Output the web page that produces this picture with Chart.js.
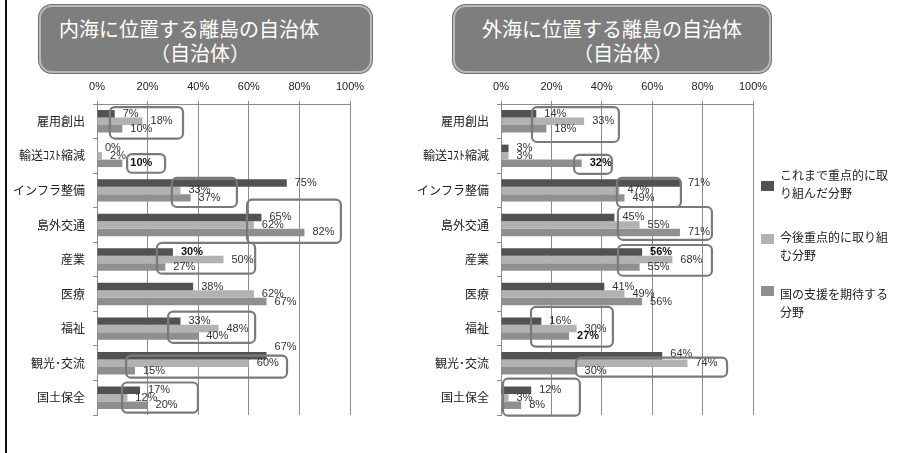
<!DOCTYPE html>
<html lang="ja">
<head>
<meta charset="utf-8">
<title>離島の自治体 重点分野</title>
<script src="https://cdn.jsdelivr.net/npm/chart.js@4.4.1/dist/chart.umd.min.js"></script>
<style>
  html, body { margin: 0; padding: 0; background: #fff; }
  #page { position: relative; width: 900px; height: 453px; overflow: hidden; background: #fff; }
  #frame { position: absolute; left: 5px; top: 0; width: 2px; height: 453px; background: #111; }
  .titlebox {
    position: absolute; top: 5px; height: 64px;
    background: #7e7e7e; border: 2px solid #b9b9b9; border-radius: 13px;
    box-shadow: 0 0 0 1px #6f6f6f;
  }
  .tline {
    position: absolute; color: #fff; font-family: "Noto Sans CJK JP", sans-serif;
    font-size: 20px; line-height: 24px; white-space: nowrap; transform: translateX(-50%);
  }
  canvas { position: absolute; }
  .lg-sw { position: absolute; left: 761px; width: 13px; height: 10px; }
  .lg-tx {
    position: absolute; left: 780px; font-family: "Noto Sans CJK JP", sans-serif;
    font-size: 12px; line-height: 18px; color: #222; white-space: nowrap;
  }
</style>
</head>
<body>
<div id="page">
  <div id="frame"></div>

  <div class="titlebox" style="left:39px; width:329px;"></div>
  <div class="tline" style="left:189px; top:17px;">内海に位置する離島の自治体</div>
  <div class="tline" style="left:200px; top:41px;">（自治体）</div>

  <div class="titlebox" style="left:453px; width:314px;"></div>
  <div class="tline" style="left:612px; top:17px;">外海に位置する離島の自治体</div>
  <div class="tline" style="left:623px; top:41px;">（自治体）</div>

  <canvas id="inner" width="450" height="345" style="left:0; top:75px;"></canvas>
  <canvas id="outer" width="380" height="345" style="left:410px; top:75px;"></canvas>

  <div id="legend"></div>
</div>

<script>
// Categories (drawn top to bottom)
const categories = ['雇用創出', '輸送ｺｽﾄ縮減', 'インフラ整備', '島外交通', '産業', '医療', '福祉', '観光･交流', '国土保全'];

// Series names
const seriesNames = ['これまで重点的に取り組んだ分野', '今後重点的に取り組む分野', '国の支援を期待する分野'];
const legendLines = [['これまで重点的に取', 'り組んだ分野'], ['今後重点的に取り組', 'む分野'], ['国の支援を期待する', '分野']];

// 内海に位置する離島の自治体 (%)
const innerPast    = [7, 0, 75, 65, 30, 38, 33, 67, 17];
const innerFuture  = [18, 2, 33, 62, 50, 62, 48, 60, 12];
const innerSupport = [10, 10, 37, 82, 27, 67, 40, 15, 20];

// 外海に位置する離島の自治体 (%)
const outerPast    = [14, 3, 71, 45, 56, 41, 16, 64, 12];
const outerFuture  = [33, 3, 47, 55, 68, 49, 30, 74, 3];
const outerSupport = [18, 32, 49, 71, 55, 56, 27, 30, 8];

// Axis tick values (%)
const xTicks = [0, 20, 40, 60, 80, 100];

// Value labels printed in bold: [category, series]
const innerBold = [[1, 2], [4, 0]];
const outerBold = [[1, 2], [4, 0], [6, 2]];

// Vertical nudges for individual value labels: [category, series, px]
const innerNudge = [[7, 0, -9]];
const outerNudge = [[7, 0, -2]];

// Highlight frames, in axis units: [fromCategory, toCategory, fromPercent, toPercent]
const innerFrames = [
  [-0.41, 0.50, 5.1, 34.0],
  [0.95, 1.49, 11.9, 26.9],
  [1.64, 2.48, 29.6, 55.3],
  [2.27, 3.52, 59.3, 96.4],
  [3.52, 4.41, 23.7, 62.5],
  [5.51, 6.41, 28.1, 62.5],
  [6.78, 7.42, 11.5, 75.1],
  [7.56, 8.43, 9.9, 39.9]
];
const outerFrames = [
  [-0.41, 0.60, 12.3, 46.8],
  [0.97, 1.52, 29.0, 44.0],
  [1.64, 2.48, 46.0, 71.4],
  [2.48, 3.43, 46.4, 83.7],
  [3.58, 4.47, 46.4, 83.7],
  [5.37, 6.52, 11.9, 44.4],
  [6.84, 7.39, 29.8, 89.7],
  [7.45, 8.52, 0.8, 31.3]
];

const barColors = ['#525252', '#b2b2b2', '#8f8f8f'];
const axisColor = '#8c8c8c';

function roundRectPath(ctx, x, y, w, h, r) {
  ctx.beginPath();
  ctx.moveTo(x + r, y);
  ctx.lineTo(x + w - r, y);
  ctx.arcTo(x + w, y, x + w, y + r, r);
  ctx.lineTo(x + w, y + h - r);
  ctx.arcTo(x + w, y + h, x + w - r, y + h, r);
  ctx.lineTo(x + r, y + h);
  ctx.arcTo(x, y + h, x, y + h - r, r);
  ctx.lineTo(x, y + r);
  ctx.arcTo(x, y, x + r, y, r);
  ctx.closePath();
}

// Value labels beside each bar, plus the rounded highlight frames
const annotations = {
  id: 'annotations',
  afterDatasetsDraw(chart, args, opts) {
    const { ctx } = chart;
    const xs = chart.scales.x, ys = chart.scales.y;
    const catH = (ys.bottom - ys.top) / categories.length;
    const yAt = c => ys.getPixelForValue(0) + c * catH;

    ctx.save();
    ctx.textBaseline = 'middle';
    ctx.textAlign = 'left';
    chart.data.datasets.forEach((ds, si) => {
      const meta = chart.getDatasetMeta(si);
      meta.data.forEach((el, ci) => {
        const bold = opts.bold.some(b => b[0] === ci && b[1] === si);
        const nudge = opts.nudge.find(n => n[0] === ci && n[1] === si);
        ctx.font = (bold ? 'bold ' : '') + '11px "Liberation Sans", Arial, sans-serif';
        ctx.fillStyle = bold ? '#111' : '#333';
        ctx.fillText(ds.data[ci] + '%', el.x + 8, el.y + (nudge ? nudge[2] : 0));
      });
    });

    ctx.strokeStyle = '#7a7a7a';
    ctx.lineWidth = 2.2;
    opts.frames.forEach(f => {
      const top = yAt(f[0]), bottom = yAt(f[1]);
      const left = xs.getPixelForValue(f[2]), right = xs.getPixelForValue(f[3]);
      roundRectPath(ctx, left, top, right - left, bottom - top, 5);
      ctx.stroke();
    });
    ctx.restore();
  }
};

function makeChart(id, values, yWidth, padRight, bold, nudge, frames) {
  return new Chart(document.getElementById(id), {
    type: 'bar',
    data: {
      labels: categories,
      datasets: values.map((v, i) => ({
        label: seriesNames[i],
        data: v,
        backgroundColor: barColors[i],
        borderWidth: 0,
        categoryPercentage: 0.65,
        barPercentage: 1.0
      }))
    },
    options: {
      indexAxis: 'y',
      responsive: false,
      devicePixelRatio: 1,
      animation: false,
      layout: { padding: { top: 0, right: padRight, bottom: 5, left: 0 } },
      plugins: {
        legend: { display: false },
        tooltip: { enabled: false },
        annotations: { bold, nudge, frames }
      },
      scales: {
        x: {
          position: 'top',
          min: xTicks[0],
          max: xTicks[xTicks.length - 1],
          afterBuildTicks: s => { s.ticks = xTicks.map(v => ({ value: v })); },
          afterFit: s => { s.height = 29; s.paddingTop = 0; s.paddingBottom = 0; },
          ticks: {
            callback: v => v + '%',
            color: '#222',
            padding: 7,
            font: { family: '"Liberation Sans", Arial, sans-serif', size: 11 }
          },
          grid: { color: axisColor, lineWidth: 1, tickLength: 3, drawTicks: true },
          border: { color: axisColor, width: 1 }
        },
        y: {
          afterFit: s => { s.width = yWidth; s.paddingTop = 0; s.paddingBottom = 0; },
          ticks: {
            color: '#222',
            padding: 8,
            font: { family: '"Noto Sans CJK JP", sans-serif', size: 12 }
          },
          grid: { drawOnChartArea: false, color: axisColor, tickLength: 4, offset: true },
          border: { color: axisColor, width: 1 }
        }
      }
    },
    plugins: [annotations]
  });
}

makeChart('inner', [innerPast, innerFuture, innerSupport], 97, 100, innerBold, innerNudge, innerFrames);
makeChart('outer', [outerPast, outerFuture, outerSupport], 91, 37, outerBold, outerNudge, outerFrames);

// Legend
const legendPos = [
  { sw: 181, tx: 166 },
  { sw: 234, tx: 228 },
  { sw: 286, tx: 285 }
];
const legend = document.getElementById('legend');
legendPos.forEach((p, i) => {
  const sw = document.createElement('div');
  sw.className = 'lg-sw';
  sw.style.top = p.sw + 'px';
  sw.style.background = barColors[i];
  const tx = document.createElement('div');
  tx.className = 'lg-tx';
  tx.style.top = p.tx + 'px';
  tx.innerHTML = legendLines[i].join('<br>');
  legend.appendChild(sw);
  legend.appendChild(tx);
});
</script>
</body>
</html>
